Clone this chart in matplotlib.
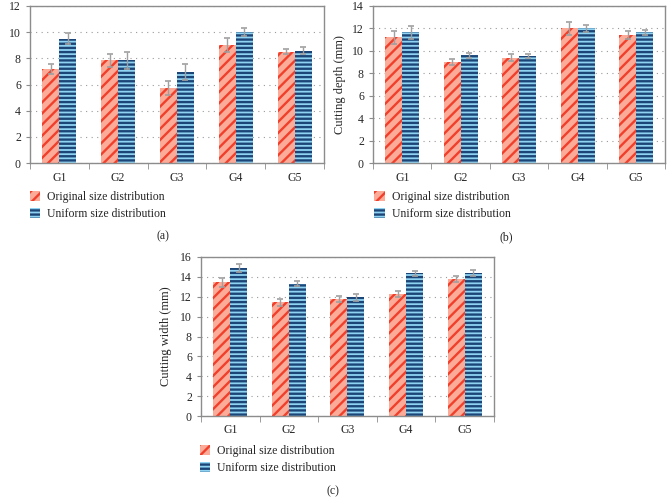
import numpy as np
import matplotlib.pyplot as plt
from matplotlib.patches import Patch

plt.rcParams["font.family"] = ["Liberation Serif", "DejaVu Serif"]
plt.rcParams["hatch.linewidth"] = 1.7

GROUPS = ["G1", "G2", "G3", "G4", "G5"]
SERIES = ["Original size distribution", "Uniform size distribution"]

# (a) removal volume
vol_orig = [7.2, 7.85, 5.75, 9.0, 8.5]
vol_orig_err = [0.4, 0.5, 0.55, 0.55, 0.2]
vol_unif = [9.5, 7.85, 6.95, 10.0, 8.6]
vol_unif_err = [0.4, 0.65, 0.6, 0.3, 0.25]

# (b) cutting depth
depth_orig = [11.2, 9.0, 9.4, 12.0, 11.4]
depth_orig_err = [0.6, 0.25, 0.3, 0.55, 0.35]
depth_unif = [11.65, 9.6, 9.55, 12.0, 11.65]
depth_unif_err = [0.55, 0.25, 0.2, 0.35, 0.25]

# (c) cutting width
width_orig = [13.45, 11.45, 11.8, 12.25, 13.75]
width_orig_err = [0.45, 0.35, 0.3, 0.3, 0.3]
width_unif = [14.9, 13.3, 11.95, 14.35, 14.35]
width_unif_err = [0.4, 0.25, 0.35, 0.25, 0.3]

RED_FACE, RED_HATCH = "#fcab98", "#f0402c"
BLUE_FACE, BLUE_HATCH = "#8fd3f3", "#1c4677"
SPINE = "#8c8c8c"
TEXT = "#262626"
RED_PAT, BLUE_PAT = "///", "----"


def draw_panel(fig, rect, orig, orig_err, unif, unif_err, ymax, ylabel, label_x, legend_xy, caption_xy, caption):
    ax = fig.add_axes(rect)
    x = np.arange(len(GROUPS))
    w = 0.29
    err_kw = dict(ecolor="#a0a0a0", elinewidth=1.0, capsize=2, capthick=1.2)
    ax.bar(x - w / 2, orig, w, yerr=orig_err, color=RED_FACE, edgecolor=RED_HATCH,
           linewidth=0, hatch=RED_PAT, error_kw=err_kw, zorder=2)
    ax.bar(x + w / 2, unif, w, yerr=unif_err, color=BLUE_FACE, edgecolor=BLUE_HATCH,
           linewidth=0, hatch=BLUE_PAT, error_kw=err_kw, zorder=2)

    ax.set_xlim(-0.5, len(GROUPS) - 0.5)
    ax.set_ylim(0, ymax)
    ax.set_yticks(np.arange(0, ymax + 1, 2))
    ax.set_xticks(x)
    ax.set_xticklabels(GROUPS)
    ax.set_xticks(np.arange(-0.5, len(GROUPS)), minor=True)
    ax.tick_params(axis="x", which="major", length=0, pad=6, labelsize=8.5, labelcolor=TEXT)
    ax.tick_params(axis="x", which="minor", length=4, color=SPINE, direction="out")
    ax.tick_params(axis="y", length=3, color=SPINE, labelsize=8.5, labelcolor=TEXT)
    for s in ax.spines.values():
        s.set_color(SPINE)
        s.set_linewidth(1.0)
    ax.grid(axis="y", linestyle=(0, (1, 4)), color="#9a9a9a", linewidth=0.8, zorder=0)
    ax.set_axisbelow(True)
    ax.set_ylabel(ylabel, fontsize=9, color=TEXT)
    ax.yaxis.set_label_coords(label_x, 0.5)

    handles = [Patch(facecolor=RED_FACE, edgecolor=RED_HATCH, linewidth=0, hatch=RED_PAT),
               Patch(facecolor=BLUE_FACE, edgecolor=BLUE_HATCH, linewidth=0, hatch=BLUE_PAT)]
    ax.legend(handles, SERIES, loc="upper left", bbox_to_anchor=legend_xy, bbox_transform=fig.transFigure,
              frameon=False, fontsize=8.5, handlelength=0.9, handleheight=0.9, handletextpad=0.6,
              labelspacing=0.45, borderpad=0, borderaxespad=0, labelcolor=TEXT)
    fig.text(caption_xy[0], caption_xy[1], caption, ha="center", va="center", fontsize=8.5, color=TEXT)
    return ax


fig = plt.figure(figsize=(6.72, 4.99), dpi=100)

draw_panel(fig, [0.0446, 0.673, 0.4375, 0.315], vol_orig, vol_orig_err, vol_unif, vol_unif_err,
           12, "Removal volume (cm$^3$)", -0.085, (0.044, 0.617), (0.2426, 0.527), "(a)")
draw_panel(fig, [0.555, 0.673, 0.435, 0.315], depth_orig, depth_orig_err, depth_unif, depth_unif_err,
           14, "Cutting depth (mm)", -0.092, (0.557, 0.617), (0.754, 0.525), "(b)")
draw_panel(fig, [0.299, 0.166, 0.436, 0.319], width_orig, width_orig_err, width_unif, width_unif_err,
           16, "Cutting width (mm)", -0.098, (0.297, 0.108), (0.4955, 0.016), "(c)")

fig.savefig("out.png", dpi=100)
